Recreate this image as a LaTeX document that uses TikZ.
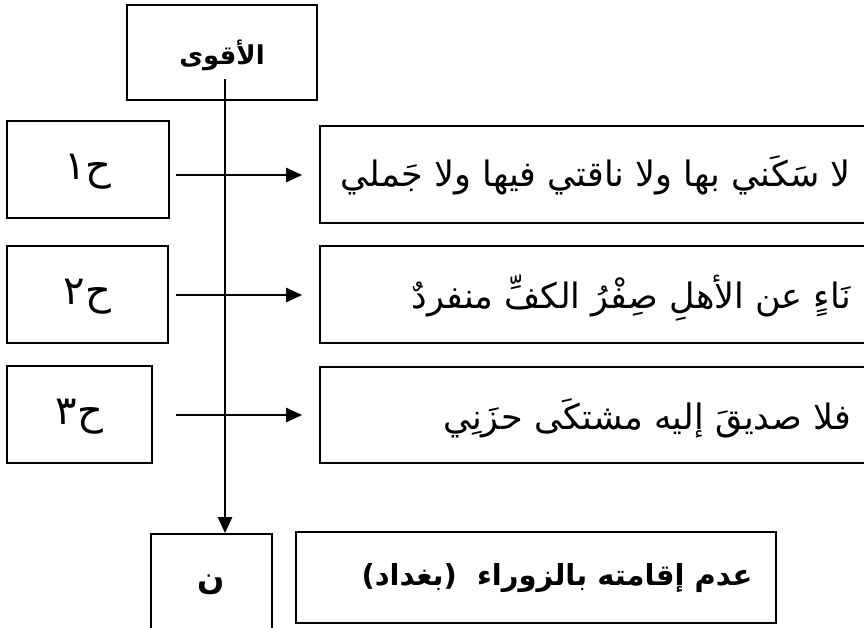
\documentclass[tikz,border=0pt]{standalone}
\usepackage{fontspec}
\usetikzlibrary{arrows.meta}
\TeXXeTstate=1
\newfontfamily\arabicfont[Script=Arabic]{DejaVu Sans}
\begin{document}
\begin{tikzpicture}[x=1pt,y=-1pt,
  box/.style={draw, rectangle, line width=1.7pt, inner sep=0pt},
  arr/.style={line width=2.4pt, -{Triangle[length=16pt,width=14pt]}},
  verse/.style={font=\arabicfont\fontsize{35}{39}\selectfont, inner sep=0pt},
  lbl/.style={font=\arabicfont\fontsize{40}{44}\selectfont, inner sep=0pt},
  bld/.style={font=\arabicfont\bfseries\fontsize{26}{30}\selectfont, inner sep=0pt}]
\useasboundingbox (0,0) rectangle (864,628);
\clip (0,0) rectangle (864,628);
% boxes
\node[box, minimum width=190pt, minimum height=95pt] (top) at (222,52.5) {};
\node[bld] (toptext) at (222,55) {\beginR الأقوى\endR};
\node[box, minimum width=162pt, minimum height=97pt] (h1) at (88,169.5) {};
\node[box, minimum width=161pt, minimum height=97pt] (h2) at (87.5,294.5) {};
\node[box, minimum width=145pt, minimum height=97pt] (h3) at (79.5,414.5) {};
\node[lbl] (h1t) at (88,172) {\beginR ح١\endR};
\node[lbl] (h2t) at (87.5,297) {\beginR ح٢\endR};
\node[lbl] (h3t) at (79.5,417) {\beginR ح٣\endR};
\node[box, minimum width=580pt, minimum height=97pt] (v1) at (610,174.5) {};
\node[box, minimum width=580pt, minimum height=97pt] (v2) at (610,294.5) {};
\node[box, minimum width=580pt, minimum height=96pt] (v3) at (610,415) {};
\node[verse, anchor=east] (v1t) at (851,175) {\beginR لا سَكَني بها ولا ناقتي فيها ولا جَملي\endR};
\node[verse, anchor=east] (v2t) at (851,298) {\beginR نَاءٍ عن الأهلِ صِفْرُ الكفِّ منفردٌ\endR};
\node[verse, anchor=east] (v3t) at (851,418) {\beginR فلا صديقَ إليه مشتكَى حزَنِي\endR};
\node[box, minimum width=121pt, minimum height=106pt] (n) at (211.5,587) {};
\node[bld, font=\arabicfont\bfseries\fontsize{32}{36}\selectfont] (nt) at (211.5,585) {\beginR ن\endR};
\node[box, minimum width=480pt, minimum height=91pt] (res) at (536,577.5) {};
\node[bld, font=\arabicfont\bfseries\fontsize{29}{33}\selectfont] (rest) at (557,578) {\beginR عدم إقامته بالزوراء~~(بغداد)\endR};
% connectors
\coordinate (vs) at (225,79);
\draw[arr] (vs) -- (vs |- n.north);
\coordinate (s1) at (176,175);
\coordinate (s2) at (176,295);
\coordinate (s3) at (176,415);
\draw[arr, shorten >=17pt] (s1) -- (s1 -| v1.west);
\draw[arr, shorten >=17pt] (s2) -- (s2 -| v2.west);
\draw[arr, shorten >=17pt] (s3) -- (s3 -| v3.west);
\end{tikzpicture}
\end{document}
